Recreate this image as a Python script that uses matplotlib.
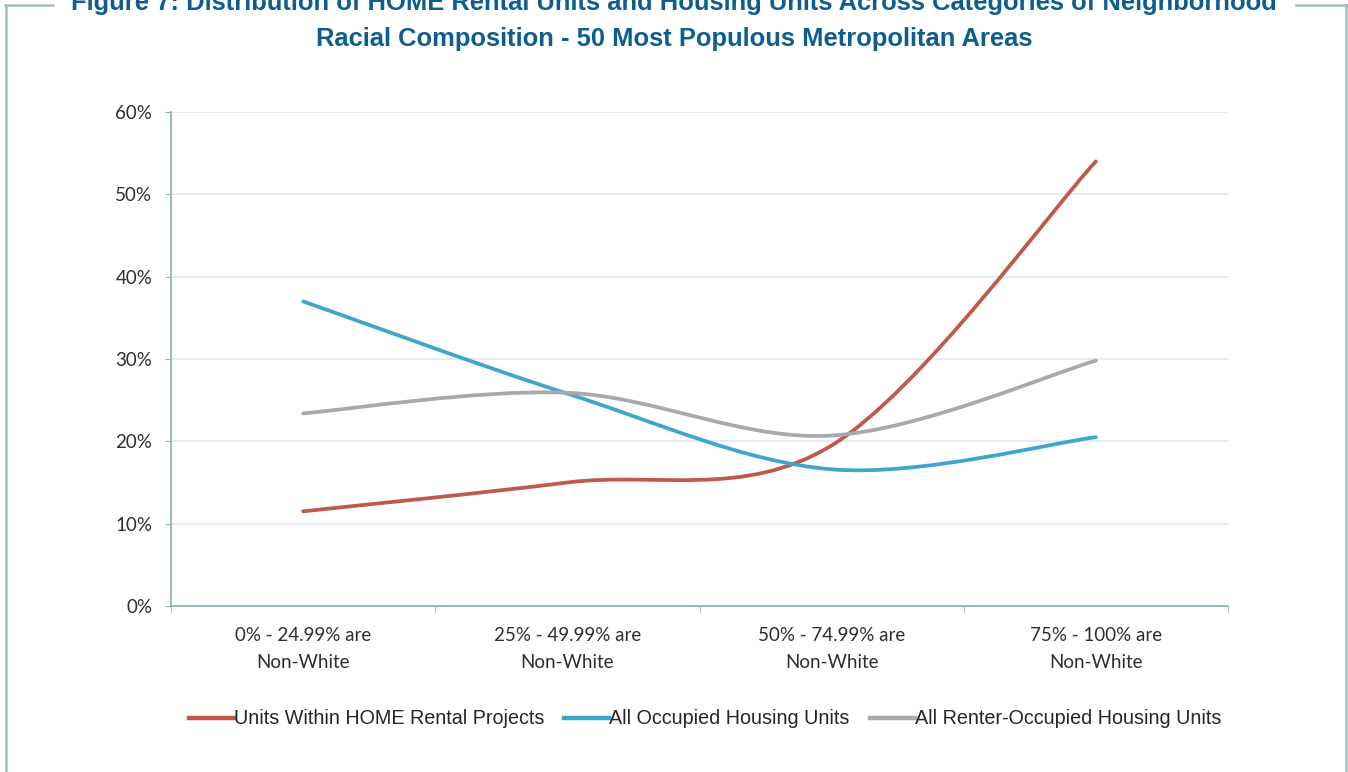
import numpy as np
import matplotlib
matplotlib.use("Agg")
import matplotlib.pyplot as plt
from matplotlib.path import Path
from matplotlib.patches import PathPatch
from matplotlib.lines import Line2D
from matplotlib.ticker import PercentFormatter

# data
categories = ['0% - 24.99% are\nNon-White', '25% - 49.99% are\nNon-White',
              '50% - 74.99% are\nNon-White', '75% - 100% are\nNon-White']
home_rental = [0.115, 0.150, 0.195, 0.540]
all_occupied = [0.370, 0.258, 0.166, 0.205]
all_renter = [0.234, 0.259, 0.207, 0.298]
series_names = ['Units Within HOME Rental Projects', 'All Occupied Housing Units',
                'All Renter-Occupied Housing Units']
colors = ['#c0594a', '#3ea7c9', '#a7a9ab']

title1 = 'Figure 7: Distribution of HOME Rental Units and Housing Units Across Categories of Neighborhood'
title2 = 'Racial Composition - 50 Most Populous Metropolitan Areas'


def smooth_path(y):
    # Excel style smoothed line: cubic bezier through the data points
    x = np.arange(len(y), dtype=float)
    y = np.asarray(y, dtype=float)
    pts = np.column_stack([x, y])
    ext = np.vstack([pts[0], pts, pts[-1]])
    verts = [pts[0]]
    codes = [Path.MOVETO]
    for i in range(len(pts) - 1):
        p0, p1, p2, p3 = ext[i], ext[i + 1], ext[i + 2], ext[i + 3]
        c1 = p1 + (p2 - p0) / 6.0
        c2 = p2 - (p3 - p1) / 6.0
        verts += [c1, c2, p2]
        codes += [Path.CURVE4] * 3
    return Path(verts, codes)


W, H = 1348.0, 772.0
fig = plt.figure(figsize=(13.48, 7.72), dpi=100)
ax = fig.add_axes([171 / W, 1 - 606 / H, (1228 - 171) / W, (606 - 112) / H])

for vals, c in zip([home_rental, all_occupied, all_renter], colors):
    ax.add_patch(PathPatch(smooth_path(vals), fill=False, edgecolor=c, lw=2.7,
                           capstyle='round', zorder=3))

tick_font = ['Lato', 'DejaVu Sans']
ax.set_xlim(-0.5, 3.5)
ax.set_ylim(0, 0.6)
ax.set_yticks(np.arange(0, 0.61, 0.1))
ax.yaxis.set_major_formatter(PercentFormatter(1.0, decimals=0))
ax.set_xticks(np.arange(len(categories)))
ax.set_xticklabels(categories)
ax.set_xticks(np.arange(-0.5, 3.6, 1), minor=True)
ax.tick_params(axis='x', which='major', length=0, pad=15, labelsize=13.5,
               labelcolor='#2e2e2e')
ax.tick_params(axis='x', which='minor', length=5, color='#8fb3c6', direction='out')
ax.tick_params(axis='y', length=4.5, color='#8fb3c6', pad=9, labelsize=13.5,
               labelcolor='#2e2e2e')
for lab in ax.get_xticklabels() + ax.get_yticklabels():
    lab.set_family(tick_font)
for lab in ax.get_xticklabels():
    lab.set_linespacing(1.7)

ax.grid(axis='y', color='#dcebf2', lw=1.2)
ax.set_axisbelow(True)
for s in ['top', 'right']:
    ax.spines[s].set_visible(False)
for s in ['left', 'bottom']:
    ax.spines[s].set_color('#8fb3c6')
    ax.spines[s].set_linewidth(1.3)

handles = [Line2D([], [], color=c, lw=3.2) for c in colors]
leg = fig.legend(handles, series_names, loc='center', bbox_to_anchor=(0.523, 1 - 719 / H),
                 ncol=3, frameon=False, handlelength=2.3, handletextpad=0.0,
                 columnspacing=1.0, prop={'family': 'Liberation Sans', 'size': 14.2})
for t in leg.get_texts():
    t.set_color('#262626')

title_color = '#0d5e8f'
fig.text(0.5, 1 - 10 / H, title1, ha='center', va='baseline', fontsize=18.4,
         fontweight='bold', color=title_color, family='Liberation Sans')
fig.text(0.5, 1 - 46 / H, title2, ha='center', va='baseline', fontsize=18.4,
         fontweight='bold', color=title_color, family='Liberation Sans')

# frame around the figure
frame_color = '#a3bfbb'
for xs, ys in [([5, 53], [5, 5]), ([1296, 1347], [5, 5]),
               ([6, 6], [5, 772]), ([1346, 1346], [5, 772])]:
    fig.add_artist(Line2D([x / W for x in xs], [1 - y / H for y in ys],
                          color=frame_color, lw=1.8, transform=fig.transFigure))

fig.savefig('out.png', dpi=100, facecolor='white')
